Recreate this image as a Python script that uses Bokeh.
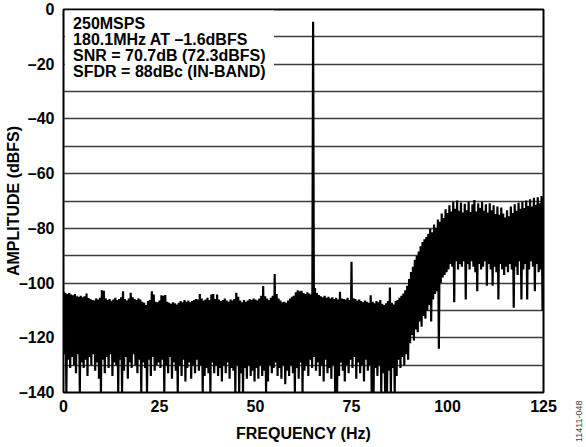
import numpy as np
from bokeh.plotting import figure
from bokeh.models import Range1d, FixedTicker, BoxAnnotation, Label
from bokeh.embed import file_html
from bokeh.resources import INLINE

# FFT bins: upper (local maxima) at f = i*0.5 MHz, lower (local minima) at f = i*0.5 + 0.25
bin_step = 0.5
upper_db = [
    -103.2, -103.5, -104.0, -103.6, -104.2, -104.5, -104.0, -104.8, -105.0, -104.6,
    -105.2, -104.8, -103.8, -105.5, -105.8, -106.2, -106.4, -105.6, -106.0, -105.4,
    -102.6, -102.8, -105.6, -106.2, -105.8, -106.5, -106.0, -105.4, -106.2, -105.8,
    -105.2, -103.0, -105.8, -106.4, -105.6, -103.5, -105.2, -105.8, -106.2, -105.6,
    -106.0, -106.8, -107.2, -108.0, -106.6, -106.2, -103.0, -104.2, -106.8, -107.0,
    -106.4, -104.5, -104.6, -104.4, -106.8, -107.2, -107.6, -107.0, -107.4, -107.8,
    -107.2, -106.6, -107.0, -106.2, -106.8, -106.4, -107.0, -106.6, -106.2, -105.8,
    -106.0, -104.0, -105.6, -106.4, -106.0, -105.4, -106.2, -104.2, -104.0, -105.8,
    -104.2, -106.0, -106.6, -106.2, -105.6, -106.4, -106.8, -106.0, -106.4, -105.8,
    -103.5, -105.0, -106.4, -107.0, -106.2, -106.8, -106.4, -105.8, -106.2, -105.6,
    -106.0, -106.4, -105.6, -104.6, -101.1, -104.8, -105.6, -106.2, -105.4, -104.6,
    -96.7, -104.0, -105.6, -106.4, -107.0, -106.8, -107.2, -106.4, -105.6, -105.0,
    -104.6, -103.4, -102.6, -103.0, -102.8, -103.6, -104.0, -103.4, -103.8, -104.2,
    -4.5, -101.8, -103.6, -104.4, -104.8, -105.2, -104.6, -105.4, -105.0, -105.6,
    -105.2, -105.8, -105.4, -106.0, -103.2, -105.6, -105.8, -106.0, -105.4, -106.2,
    -92.2, -105.6, -105.8, -106.4, -106.0, -106.6, -107.0, -106.4, -106.8, -107.2,
    -104.5, -106.8, -107.4, -106.6, -107.0, -106.2, -107.6, -108.0, -107.4, -106.6,
    -101.6, -107.2, -107.8, -106.6, -106.2, -105.4, -104.6, -103.8, -102.6, -101.0,
    -98.5, -96.0, -94.0, -91.5, -90.0, -88.5, -86.5, -85.0, -84.0, -83.2,
    -82.0, -80.2, -81.4, -78.6, -79.8, -76.8, -77.6, -74.6, -76.2, -73.0,
    -74.4, -71.6, -73.8, -70.4, -72.8, -69.8, -73.6, -70.6, -74.2, -71.0,
    -73.4, -70.2, -74.0, -71.2, -69.6, -73.8, -70.8, -72.6, -70.4, -73.6,
    -71.2, -74.2, -70.8, -73.4, -71.6, -74.8, -72.0, -75.0, -72.4, -74.6,
    -76.0, -73.4, -75.6, -72.0, -74.4, -71.2, -73.6, -70.6, -72.8, -70.2,
    -72.6, -69.8, -71.8, -69.4, -72.0, -68.8, -71.4, -68.6, -70.8, -68.2,
    -69.0,
]
lower_db = [
    -126, -140, -128, -131, -127, -130, -133, -126, -140, -129,
    -131, -128, -134, -127, -130, -126, -132, -129, -135, -140,
    -128, -133, -127, -131, -126, -134, -129, -130, -140, -128,
    -140, -132, -127, -135, -129, -131, -126, -130, -133, -128,
    -140, -129, -131, -140, -128, -134, -127, -132, -130, -129,
    -131, -128, -140, -130, -133, -127, -135, -129, -132, -140,
    -130, -134, -128, -136, -131, -129, -135, -130, -133, -128,
    -132, -130, -140, -134, -131, -133, -140, -129, -133, -130,
    -134, -131, -136, -130, -133, -129, -135, -131, -132, -140,
    -130, -140, -133, -140, -131, -135, -130, -134, -132, -136,
    -131, -135, -130, -134, -132, -140, -136, -130, -133, -131,
    -129, -134, -131, -135, -130, -137, -132, -134, -130, -133,
    -140, -131, -135, -129, -140, -132, -130, -134, -128, -131,
    -127, -132, -129, -134, -130, -136, -128, -133, -131, -135,
    -130, -140, -140, -134, -129, -132, -136, -130, -133, -128,
    -131, -127, -135, -129, -133, -130, -136, -128, -132, -130,
    -140, -140, -131, -134, -130, -140, -133, -140, -140, -132,
    -140, -131, -140, -134, -128, -131, -127, -130, -126, -128,
    -122, -119, -121, -117, -118, -114, -116, -112, -113, -110,
    -108, -114, -106, -104, -103, -124, -100, -98, -97, -96,
    -95, -93, -94, -107, -92, -95, -93, -94, -92, -106,
    -93, -95, -92, -94, -96, -103, -93, -95, -94, -92,
    -101, -93, -95, -101, -94, -96, -106, -93, -95, -97,
    -94, -96, -93, -95, -109, -94, -97, -92, -106, -95,
    -93, -106, -95, -92, -94, -103, -93, -96, -95, -110,
]

y_ticks = [0, -20, -40, -60, -80, -100, -120, -140]
y_tick_labels = ["0", "–20", "–40", "–60", "–80", "–100", "–120", "–140"]
y_grid_levels = [-10, -30, -50, -70, -90, -110, -130]
x_ticks = [0, 25, 50, 75, 100, 125]
x_tick_labels = ["0", "25", "50", "75", "100", "125"]
info_lines = ["250MSPS", "180.1MHz AT –1.6dBFS", "SNR = 70.7dB (72.3dBFS)", "SFDR = 88dBc (IN-BAND)"]

# interleave maxima/minima into one trace
xs, ys = [], []
for i, u in enumerate(upper_db):
    xs.append(i * bin_step)
    ys.append(u)
    if i < len(lower_db):
        xs.append(i * bin_step + bin_step / 2)
        ys.append(lower_db[i])

FONT = "Liberation Sans"

p = figure(width=586, height=447, output_backend="svg", toolbar_location=None,
           x_range=Range1d(0, 125), y_range=Range1d(-140, 0),
           min_border_left=63, min_border_right=43, min_border_top=9, min_border_bottom=55)
p.margin = (0, 0, 0, 0)
p.background_fill_color = "white"
p.border_fill_color = "white"
p.outline_line_color = "black"
p.outline_line_width = 2
p.outline_line_alpha = 1

all_y = sorted(y_ticks + y_grid_levels)
p.yaxis.ticker = FixedTicker(ticks=all_y)
overrides = {t: "" for t in y_grid_levels}
overrides.update({t: l for t, l in zip(y_ticks, y_tick_labels)})
p.yaxis.major_label_overrides = overrides
p.xaxis.ticker = FixedTicker(ticks=x_ticks)
p.xaxis.major_label_overrides = {t: l for t, l in zip(x_ticks, x_tick_labels)}

for ax in (p.xaxis, p.yaxis):
    ax.axis_line_color = None
    ax.major_tick_line_color = None
    ax.minor_tick_line_color = None
    ax.major_tick_in = 0
    ax.major_tick_out = 0
    ax.major_label_text_font = FONT
    ax.major_label_text_font_style = "bold"
    ax.major_label_text_font_size = "16px"
    ax.major_label_text_color = "black"
    ax.axis_label_text_font = FONT
    ax.axis_label_text_font_style = "bold"
    ax.axis_label_text_font_size = "16px"
    ax.axis_label_text_color = "black"

p.xaxis.axis_label = "FREQUENCY (Hz)"
p.yaxis.axis_label = "AMPLITUDE (dBFS)"
p.yaxis.major_label_standoff = 9
p.xaxis.major_label_standoff = 7
p.xaxis.axis_label_standoff = 10
p.yaxis.axis_label_standoff = -6

p.xgrid.grid_line_color = None
p.ygrid.grid_line_color = "#3c3c3c"
p.ygrid.grid_line_width = 1.3

p.line(xs, ys, line_color="black", line_width=2.2)

# white box behind the info text
p.add_layout(BoxAnnotation(left=0.4, right=54.8, top=-0.35, bottom=-26,
                           fill_color="white", fill_alpha=1, line_color=None))

text_y = [-5.1, -11.0, -16.9, -22.6]
for t, yv in zip(info_lines, text_y):
    p.add_layout(Label(x=2.5, y=yv, text=t, text_font=FONT, text_font_style="bold",
                       text_font_size="16px", text_baseline="middle", text_color="black"))

# figure id tag in the lower-right corner, placed in the right side panel so it is not clipped
p.add_layout(Label(x=134.3, y=-150.5, text="11411-048", angle=np.pi / 2,
                   text_font=FONT, text_font_size="9px", text_align="center",
                   text_baseline="middle", text_color="#444444"), "right")

open("out.html", "w").write(file_html(p, INLINE))
